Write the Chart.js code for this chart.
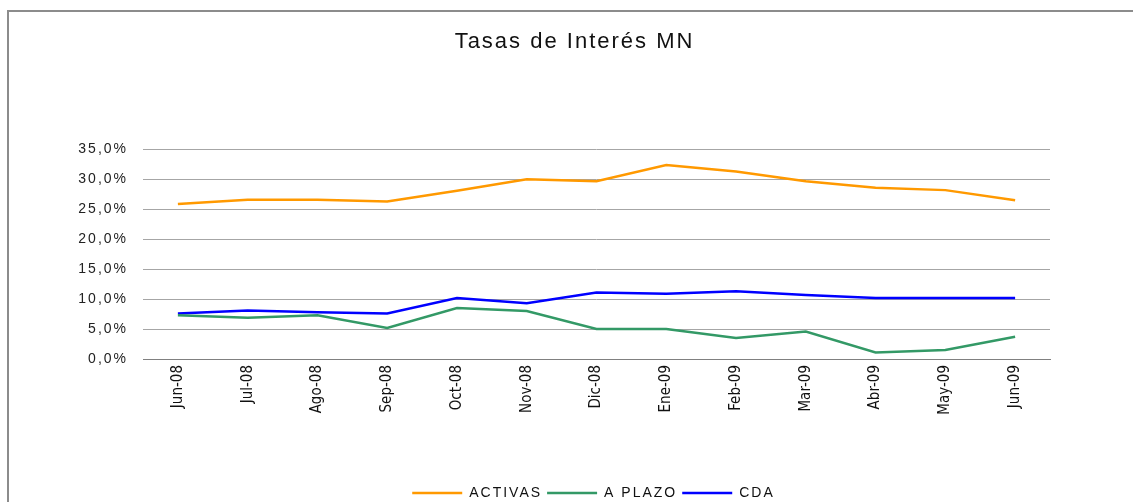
<!DOCTYPE html>
<html>
<head>
<meta charset="utf-8">
<script src="https://cdn.jsdelivr.net/npm/chart.js@4/dist/chart.umd.min.js"></script>
<style>
  body { margin: 0; background: #fff; }
  .frame {
    position: absolute; left: 7px; top: 10px; width: 1200px; height: 600px;
    border-left: 2px solid #8c8c8c; border-top: 2px solid #8c8c8c;
  }
  #myChart { position: absolute; left: 0; top: 0; }
</style>
</head>
<body>
<div class="frame"></div>
<canvas id="myChart" width="1133" height="502"></canvas>
<script>
// Tasas de interes MN (%)
let meses = ["Jun-08", "Jul-08", "Ago-08", "Sep-08", "Oct-08", "Nov-08", "Dic-08",
             "Ene-09", "Feb-09", "Mar-09", "Abr-09", "May-09", "Jun-09"];
let activas = [25.9, 26.6, 26.6, 26.3, 28.1, 30.0, 29.7, 32.4, 31.3, 29.7, 28.6, 28.2, 26.5];
let aPlazo  = [7.3, 6.9, 7.3, 5.2, 8.5, 8.0, 5.0, 5.0, 3.5, 4.6, 1.1, 1.5, 3.7];
let cda     = [7.6, 8.1, 7.8, 7.6, 10.2, 9.3, 11.1, 10.9, 11.3, 10.7, 10.2, 10.2, 10.2];
let yTicks  = [0, 5, 10, 15, 20, 25, 30, 35];

let font = "'Liberation Sans', Arial, sans-serif";
let narrow = "'Liberation Sans Narrow', 'Arial Narrow', 'DejaVu Sans Condensed', " + font;

// espaciado de letras tipo Excel, menos en las etiquetas del eje x
let spacing = {
    id: 'spacing',
    beforeLayout(chart) { chart.ctx.letterSpacing = '2px'; },
    afterLayout(chart) { chart.legend.left += 38; },  // leyenda un poco a la derecha
    beforeDraw(chart) { chart.ctx.letterSpacing = '2px'; },
    afterDatasetsDraw(chart) { chart.ctx.letterSpacing = '0px'; }
};

function serie(label, data, color) {
    return {
        label: label,
        data: data,
        borderColor: color,
        backgroundColor: color,
        borderWidth: 2.5,
        pointRadius: 0,
        tension: 0
    };
}

new Chart("myChart", {
    type: "line",
    data: {
        labels: meses,
        datasets: [
            serie("ACTIVAS", activas, "#FF9900"),
            serie("A PLAZO", aPlazo, "#339966"),
            serie("CDA", cda, "#0000FF")
        ]
    },
    options: {
        responsive: false,
        animation: false,
        devicePixelRatio: 1,
        layout: { padding: { left: 16, right: 0, top: 0, bottom: -8 } },
        scales: {
            x: {
                offset: true,
                grid: { display: false, drawTicks: false },
                border: { display: true, color: "#808080", width: 1 },
                ticks: {
                    z: 1,
                    minRotation: 90, maxRotation: 90, padding: 6,
                    color: "#111", font: { family: narrow, size: 15 }
                },
                afterFit(scale) { scale.height = 122; }
            },
            y: {
                min: 0, max: 35,
                afterBuildTicks(scale) { scale.ticks = yTicks.map(v => ({ value: v })); },
                grid: { color: "#a6a6a6", drawTicks: false },
                border: { display: false },
                ticks: {
                    padding: 15, color: "#222", font: { family: font, size: 14 },
                    callback: v => v.toFixed(1).replace(".", ",") + "%"
                },
                afterFit(scale) { scale.width = 127; }
            },
            // eje vacio a la derecha, solo reserva el margen
            derecha: {
                position: "right",
                grid: { display: false },
                border: { display: false },
                ticks: { display: false },
                afterFit(scale) { scale.width = 83; }
            }
        },
        plugins: {
            title: {
                display: true,
                text: "Tasas de Interés MN",
                color: "#111",
                font: { family: font, size: 22, weight: "normal" },
                padding: { top: 29, bottom: 94 }
            },
            legend: {
                position: "bottom",
                labels: {
                    usePointStyle: true,
                    pointStyle: "line",
                    pointStyleWidth: 50,
                    padding: 5,
                    color: "#111",
                    font: { family: font, size: 14 }
                }
            },
            tooltip: { enabled: false }
        }
    },
    plugins: [spacing]
});
</script>
</body>
</html>
